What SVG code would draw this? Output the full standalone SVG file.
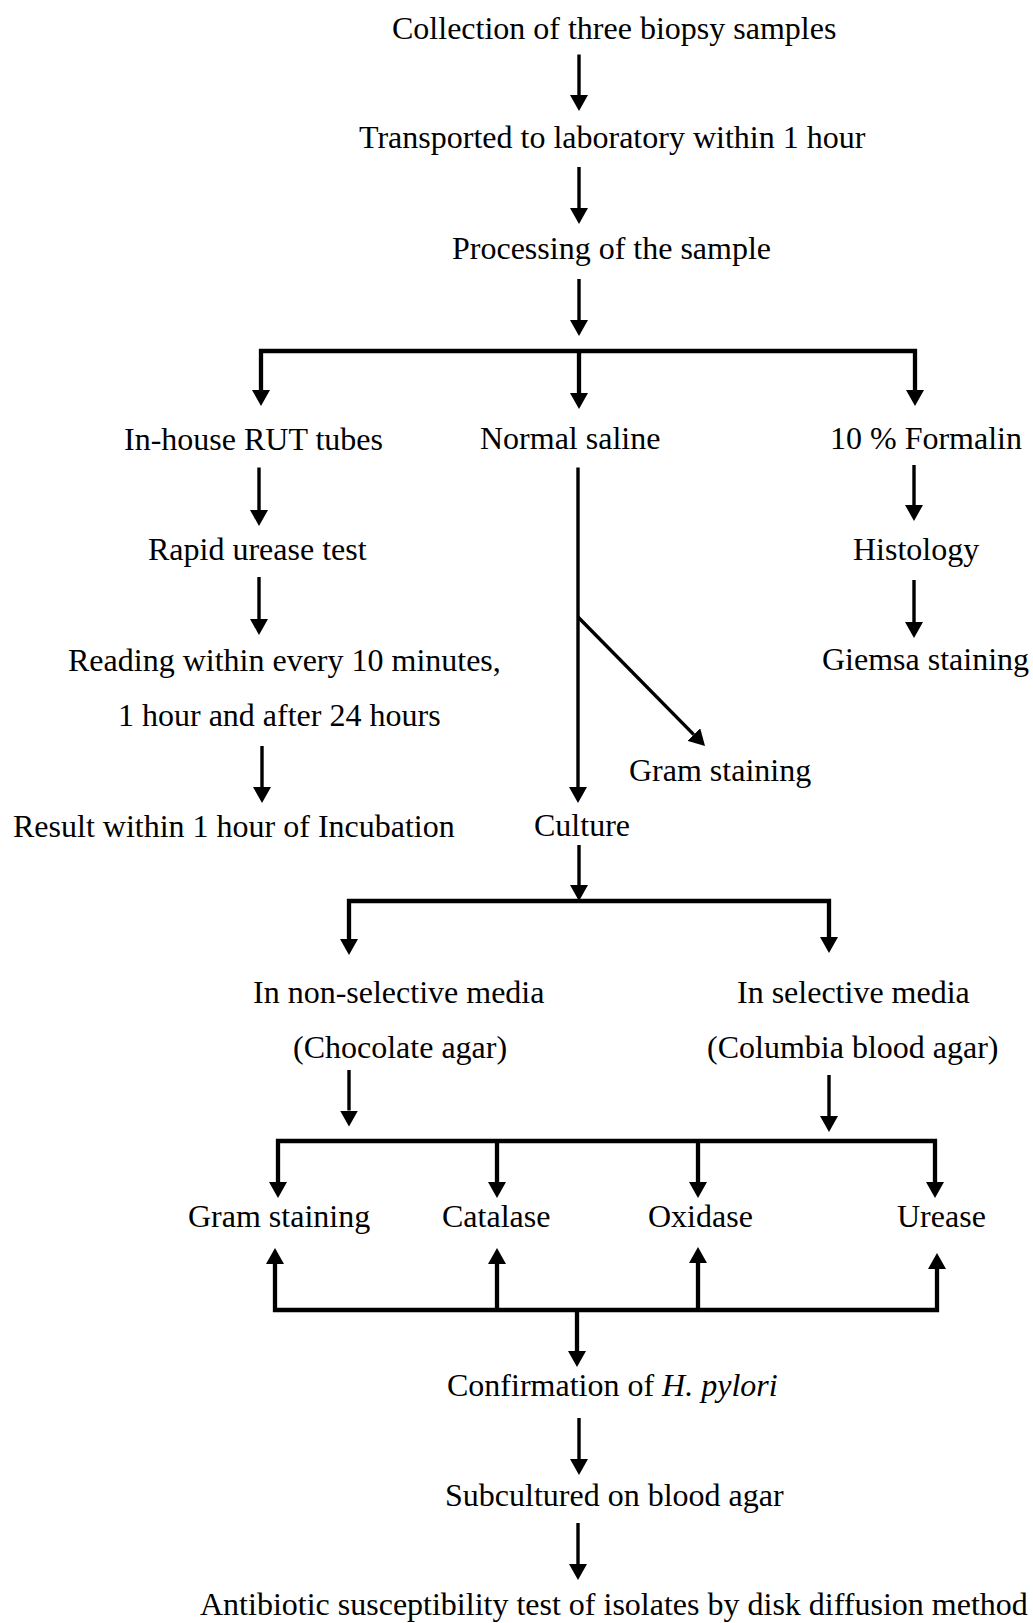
<svg xmlns="http://www.w3.org/2000/svg" width="1033" height="1623" viewBox="0 0 1033 1623">
<style>
  text { font-family: "Liberation Serif", "Times New Roman", serif; font-size: 32px; fill: #000; }
  .thin { stroke: #000; stroke-width: 3.4; fill: none; marker-end: url(#ah); }
  .thick { stroke: #000; stroke-width: 4.3; fill: none; stroke-linejoin: miter; }
  .arr { marker-end: url(#ah); }
  .both { marker-start: url(#ah); marker-end: url(#ah); }
</style>
<defs>
  <marker id="ah" viewBox="0 0 16 18" refX="0" refY="9" markerWidth="16" markerHeight="18" markerUnits="userSpaceOnUse" orient="auto-start-reverse">
    <path d="M0,0 L16,9 L0,18 z" fill="#000"/>
  </marker>
</defs>
<rect width="1033" height="1623" fill="#fff"/>

<g id="n-collection"><text x="392" y="38.5">Collection of three biopsy samples</text></g>
<g id="n-transport"><text x="359" y="148">Transported to laboratory within 1 hour</text></g>
<g id="n-processing"><text x="452" y="259">Processing of the sample</text></g>
<g id="n-rut"><text x="124" y="450">In-house RUT tubes</text></g>
<g id="n-saline"><text x="480" y="449">Normal saline</text></g>
<g id="n-formalin"><text x="830" y="449">10 % Formalin</text></g>
<g id="n-rapid"><text x="148" y="560">Rapid urease test</text></g>
<g id="n-histology"><text x="853" y="560">Histology</text></g>
<g id="n-reading"><text x="68" y="671">Reading within every 10 minutes,</text><text x="118" y="726">1 hour and after 24 hours</text></g>
<g id="n-giemsa"><text x="822" y="670">Giemsa staining</text></g>
<g id="n-gram1"><text x="629" y="781">Gram staining</text></g>
<g id="n-result"><text x="13" y="837">Result within 1 hour of Incubation</text></g>
<g id="n-culture"><text x="534" y="836">Culture</text></g>
<g id="n-nonselective"><text x="253" y="1003">In non-selective media</text><text x="293" y="1058">(Chocolate agar)</text></g>
<g id="n-selective"><text x="737" y="1003">In selective media</text><text x="707" y="1058">(Columbia blood agar)</text></g>
<g id="n-gram2"><text x="188" y="1227">Gram staining</text></g>
<g id="n-catalase"><text x="442" y="1227">Catalase</text></g>
<g id="n-oxidase"><text x="648" y="1227">Oxidase</text></g>
<g id="n-urease"><text x="897" y="1227">Urease</text></g>
<g id="n-confirm"><text x="447" y="1396">Confirmation of <tspan font-style="italic">H. pylori</tspan></text></g>
<g id="n-subculture"><text x="445" y="1506">Subcultured on blood agar</text></g>
<g id="n-ast"><text x="200" y="1615">Antibiotic susceptibility test of isolates by disk diffusion method</text></g>

<g id="connectors">
  <line class="thin" x1="579" y1="54.5" x2="579" y2="95"/>
  <line class="thin" x1="579" y1="167" x2="579" y2="208"/>
  <line class="thin" x1="579" y1="279" x2="579" y2="320"/>

  <path class="thick both" d="M261,390 V351 H915 V390"/>
  <line class="thick arr" x1="579" y1="351" x2="579" y2="393"/>

  <line class="thin" x1="259" y1="467.5" x2="259" y2="510"/>
  <line class="thin" x1="259" y1="577" x2="259" y2="619"/>
  <line class="thin" x1="262" y1="746" x2="262" y2="787"/>

  <line class="thin" x1="914" y1="465" x2="914" y2="505"/>
  <line class="thin" x1="914" y1="580" x2="914" y2="622"/>

  <line class="thin" stroke-width="3.8" x1="578" y1="467.5" x2="578" y2="787"/>
  <line class="thin" stroke-width="3.8" x1="578" y1="617" x2="693.8" y2="734.6"/>

  <line class="thin" x1="579" y1="845" x2="579" y2="885"/>
  <path class="thick both" d="M349,939 V901 H829 V937"/>

  <line class="thin" x1="349" y1="1070" x2="349" y2="1110.5"/>
  <line class="thin" x1="829" y1="1075" x2="829" y2="1116"/>

  <path class="thick both" d="M278,1182 V1141 H935 V1182"/>
  <line class="thick arr" x1="497" y1="1141" x2="497" y2="1182"/>
  <line class="thick arr" x1="698" y1="1141" x2="698" y2="1182"/>

  <path class="thick both" d="M275,1264 V1310 H937 V1269"/>
  <line class="thick arr" x1="497" y1="1310" x2="497" y2="1264"/>
  <line class="thick arr" x1="698" y1="1310" x2="698" y2="1263"/>
  <line class="thick arr" x1="577" y1="1310" x2="577" y2="1351"/>

  <line class="thin" x1="579" y1="1418" x2="579" y2="1459"/>
  <line class="thin" x1="578" y1="1523" x2="578" y2="1564"/>
</g>
</svg>
